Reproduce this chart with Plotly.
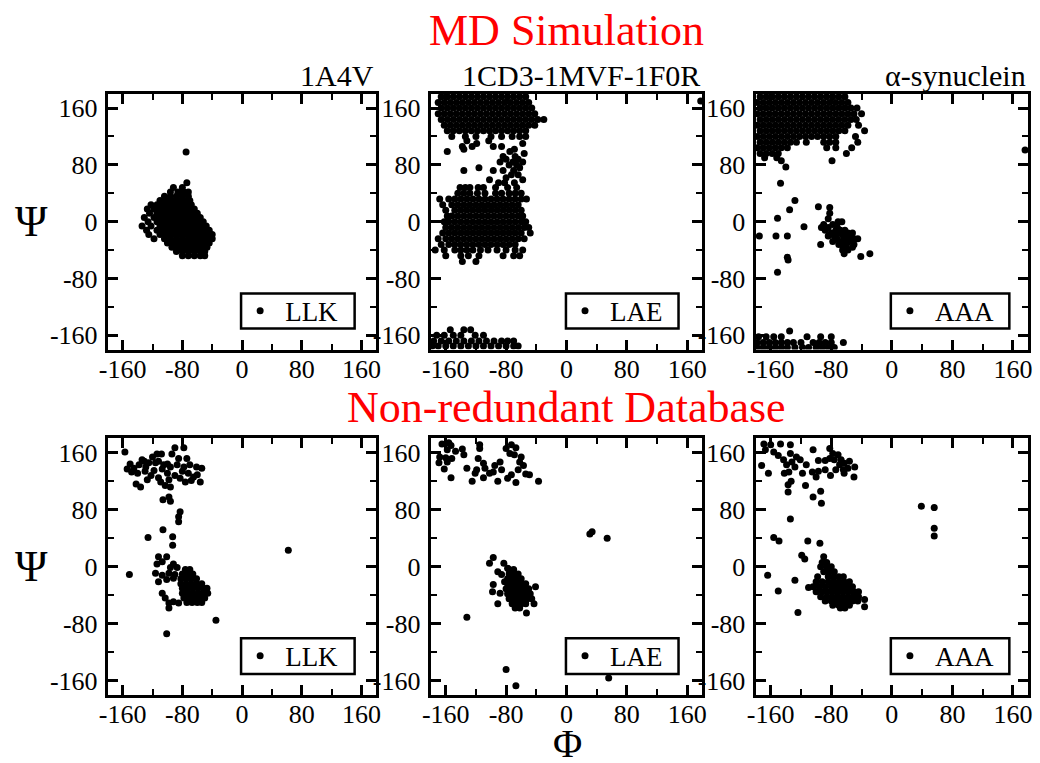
import plotly.graph_objects as go

# ---------------- data ----------------
TICK_VALS = [-160, -80, 0, 80, 160]
TICK_TEXT = ["-160", "-80", "0", "80", "160"]
MINOR_VALS = [-120, -40, 40, 120]
PANEL_TITLES = ["1A4V", "1CD3-1MVF-1F0R", "\u03b1-synuclein"]
SEQUENCES = ["LLK", "LAE", "AAA", "LLK", "LAE", "AAA"]
ROW_TITLES = ["MD Simulation", "Non-redundant Database"]

# each entry: (psi, [phi values])
P1_ROWS = [
    (98, [-75]), (55, [-74]),
    (48, [-92, -80]),
    (42, [-96, -86, -78, -72]),
    (36, [-104, -96, -88, -80, -72]),
    (30, [-110, -102, -94, -86, -78, -70]),
    (24, [-122, -114, -106, -98, -90, -82, -74, -68]),
    (18, [-127, -118, -110, -102, -94, -86, -78, -70, -64]),
    (12, [-124, -114, -106, -98, -90, -82, -74, -66, -60]),
    (6, [-131, -118, -110, -102, -94, -86, -78, -70, -62, -56]),
    (0, [-126, -114, -106, -98, -90, -82, -74, -66, -58, -52]),
    (-6, [-134, -122, -110, -102, -94, -86, -78, -70, -62, -54, -48]),
    (-12, [-128, -114, -106, -98, -90, -82, -74, -66, -58, -50, -44]),
    (-18, [-125, -110, -102, -94, -86, -78, -70, -62, -54, -46, -40]),
    (-24, [-118, -104, -96, -88, -80, -72, -64, -56, -48, -40]),
    (-30, [-100, -92, -84, -76, -68, -60, -52, -44]),
    (-36, [-94, -86, -78, -70, -62, -54, -47]),
    (-42, [-88, -80, -72, -64, -56, -50]),
    (-48, [-80, -72, -64, -56, -50]),
]

P2_ROWS = [
    (176, [-166, -158, -150, -142, -134, -126, -118, -110, -102, -94, -86, -78, -70, -62, -54]),
    (170, [178]),
    (168, [-170, -162, -154, -146, -138, -130, -122, -114, -106, -98, -90, -82, -74, -66, -58, -50]),
    (160, [-166, -158, -150, -142, -134, -126, -118, -110, -102, -94, -86, -78, -70, -62, -54, -46]),
    (152, [-170, -162, -154, -146, -138, -130, -122, -114, -106, -98, -90, -82, -74, -66, -58, -50, -42]),
    (144, [-166, -158, -150, -142, -134, -126, -118, -110, -102, -94, -86, -78, -70, -62, -54, -46, -38, -30]),
    (136, [-162, -154, -146, -138, -130, -122, -114, -106, -98, -90, -82, -74, -66, -58, -50, -42]),
    (128, [-158, -150, -142, -134, -126, -118, -110, -102, -94, -86, -78, -70, -62, -54]),
    (120, [-152, -134, -120, -100, -86, -72, -62, -54]),
    (114, [-132, -103]),
    (110, [-119, -58]),
    (106, [-138, -125, -97, -86]),
    (102, [-136, -69]),
    (99, [-158, -75]),
    (96, [-56]),
    (92, [-84, -68]),
    (88, [-80, -64]),
    (84, [-88, -71, -58]),
    (80, [-76, -66]),
    (76, [-116, -62]),
    (72, [-136, -97, -84, -70]),
    (66, [-73, -64]),
    (62, [-80]),
    (59, [-102, -58]),
    (55, [-90, -82, -69]),
    (48, [-141, -134, -128, -117, -110, -94, -78, -66]),
    (40, [-144, -136, -128, -118, -108, -94, -86, -76, -68, -60]),
    (32, [-168, -156, -148, -140, -132, -124, -116, -108, -100, -92, -84, -76, -68, -60, -53]),
    (24, [-164, -152, -144, -136, -128, -120, -112, -104, -96, -88, -80, -72, -64]),
    (16, [-160, -148, -140, -132, -124, -116, -108, -100, -92, -84, -76, -68, -60]),
    (8, [-158, -152, -144, -136, -128, -120, -112, -104, -96, -88, -80, -72, -64, -58]),
    (0, [-162, -156, -148, -140, -132, -124, -116, -108, -100, -92, -84, -76, -68, -60, -54]),
    (-8, [-160, -152, -144, -136, -128, -120, -112, -104, -96, -88, -80, -72, -64, -56, -50]),
    (-16, [-164, -156, -148, -140, -132, -124, -116, -108, -100, -92, -84, -76, -68, -60, -48]),
    (-24, [-170, -160, -152, -144, -136, -128, -120, -112, -104, -96, -88, -80, -72, -64, -56]),
    (-32, [-166, -156, -148, -140, -132, -124, -116, -108, -100, -92, -84, -76, -68]),
    (-40, [-174, -162, -148, -140, -132, -124, -114, -104, -92, -80, -68, -58]),
    (-48, [-160, -140, -130, -116, -84, -70, -62]),
    (-56, [-138, -120]),
    (-152, [-154, -136, -127]),
    (-160, [-172, -162, -150, -140, -121, -110]),
    (-168, [-176, -166, -156, -146, -136, -126, -116, -106, -96, -86, -78, -70]),
    (-175, [-178, -170, -160, -150, -140, -130, -120, -110, -100, -90, -80, -70, -64]),
]

P3_ROWS = [
    (176, [-174, -166, -158, -150, -142, -134, -126, -118, -110, -102, -94, -86, -78, -70, -62]),
    (168, [-178, -170, -162, -154, -146, -138, -130, -122, -114, -106, -98, -90, -82, -74, -66, -58]),
    (160, [-174, -166, -158, -150, -142, -134, -126, -118, -110, -102, -94, -86, -78, -70, -62, -54, -46]),
    (152, [-178, -170, -162, -154, -146, -138, -130, -122, -114, -106, -98, -90, -82, -74, -66, -58, -50, -40]),
    (144, [-174, -166, -158, -150, -142, -134, -126, -118, -110, -102, -94, -86, -78, -70, -62, -54, -47]),
    (136, [-178, -170, -162, -154, -146, -138, -130, -122, -114, -106, -98, -90, -82, -74, -66, -58, -44]),
    (128, [-174, -166, -158, -150, -142, -134, -126, -118, -110, -102, -94, -86, -78, -70, -62, -36]),
    (120, [-178, -170, -162, -154, -146, -138, -130, -122, -114, -106, -98, -90, -82, -74, -48]),
    (112, [-174, -166, -158, -150, -142, -134, -126, -113, -90, -82, -74, -45]),
    (104, [-178, -170, -162, -154, -146, -138, -86, -74, -53]),
    (101, [176]),
    (96, [-174, -166, -158, -150, -60]),
    (90, [-168, -152]),
    (86, [-146, -79]),
    (77, [-140]),
    (54, [-147]),
    (30, [-128]), (21, [-97]), (20, [-82]), (17, [-135]), (5, [-151]),
    (-7, [-116]), (-20, [-175, -153, -138]), (-50, [-138]), (-54, [-137]), (-71, [-151]),
    (12, [-82]),
    (4, [-84]),
    (0, [-71, -66]),
    (-4, [-90, -78]),
    (-8, [-93, -84, -72]),
    (-12, [-88, -74, -68, -62]),
    (-16, [-80, -70, -58, -52]),
    (-20, [-84, -76, -64, -56]),
    (-24, [-72, -62, -50, -45]),
    (-28, [-78, -66, -56]),
    (-32, [-94, -70, -60, -50]),
    (-36, [-64, -52]),
    (-40, [-65, -58]),
    (-45, [-63, -29]),
    (-49, [-41]),
    (-154, [-135]),
    (-162, [-176, -166, -156, -146, -112, -94, -80]),
    (-170, [-178, -170, -162, -154, -146, -138, -130, -120, -104, -96, -88, -80, -64]),
    (-177, [-178, -170, -162, -154, -146, -138, -128, -118, -110, -100, -92, -84, -76]),
]

P4_ROWS = [
    (167, [-90, -78]), (161, [-157]), (158, [-114, -108, -94]), (154, [-120]),
    (152, [-85, -74]), (150, [-134]), (148, [-131, -112]), (146, [-125, -116]),
    (144, [-150, -100]), (143, [-138, -105, -87, -70]), (140, [-129, -96, -78, -61]),
    (138, [-145, -54]), (137, [-154, -107]), (135, [-118]), (134, [-130, -80]),
    (133, [-148]), (131, [-140, -100, -72]), (129, [-60]), (128, [-122, -90]),
    (126, [-65]), (125, [-112]), (124, [-83]), (122, [-127, -98]), (121, [-68]),
    (119, [-109, -76, -56]), (116, [-142]), (114, [-103]), (112, [-136, -96]),
    (98, [-98]), (94, [-106]), (92, [-96]),
    (77, [-83]), (70, [-85]), (63, [-85]),
    (52, [-106]), (42, [-93]), (41, [-126]), (30, [-93]), (23, [62]),
    (14, [-112, -101]), (7, [-107]), (4, [-114, -92]), (-1, [-96, -87]),
    (-9, [-116, -98]), (-11, [-151, -90]), (-12, [-107]), (-16, [-92]),
    (-18, [-101]), (-21, [-112]),
    (-4, [-76, -70]),
    (-10, [-80, -73, -66]),
    (-17, [-82, -75, -68, -61]),
    (-24, [-82, -75, -68, -61, -54]),
    (-30, [-80, -73, -66, -59, -52, -47]),
    (-37, [-107, -80, -73, -66, -59, -52, -46]),
    (-44, [-103, -78, -71, -64, -57, -50]),
    (-49, [-92]),
    (-50, [-74, -67, -60, -54]),
    (-51, [-98, -85]),
    (-58, [-98]),
    (-75, [-35]),
    (-94, [-101]),
]

P5_ROWS = [
    (174, [-156]), (172, [-165]), (171, [-115, -73]), (170, [-153]),
    (166, [-115, -80]), (167, [-67]), (165, [-138]), (164, [-158]),
    (162, [-147]), (159, [-75]), (157, [-136, -69]), (154, [-168, -60]),
    (153, [-160]), (152, [-152, -117]), (147, [-158, -88, -62]), (146, [-169]),
    (145, [-110]), (142, [-95, -57]), (138, [-132, -108]), (137, [-162]),
    (136, [-119, -86, -64]), (133, [-97]), (131, [-121, -102]), (130, [-54]),
    (129, [-73, -49]), (125, [-153, -110]), (124, [-78]), (120, [-125, -91, -37]),
    (118, [-67]),
    (49, [34]), (46, [31]), (40, [54]),
    (13, [-97]), (5, [-102, -83]), (-2, [-78]), (-7, [-91]), (-11, [-86]),
    (-21, [-82]), (-25, [-97]), (-28, [-41]), (-35, [-98]), (-37, [-88]),
    (-52, [-91, -43]), (-65, [-53]),
    (-4, [-76, -70]),
    (-10, [-76, -70, -64]),
    (-17, [-78, -72, -66, -60]),
    (-24, [-78, -72, -66, -60, -54]),
    (-31, [-80, -74, -68, -62, -56, -50]),
    (-38, [-78, -72, -66, -60, -54, -48]),
    (-45, [-76, -70, -64, -58, -52, -46]),
    (-52, [-72, -66, -60, -54]),
    (-58, [-68, -62]),
    (-71, [-132]), (-144, [-80]), (-156, [56]), (-167, [-67]),
]

P6_ROWS = [
    (172, [-169, -147]), (171, [-160, -134]), (166, [-82]), (164, [-167, -104]),
    (161, [-156]), (159, [-134, -78]), (157, [-71]), (156, [-150]), (154, [-126]),
    (152, [-82]), (150, [-143, -121, -76, -67]), (149, [-97, -88]), (148, [-56]),
    (147, [-132]), (145, [-63]), (143, [-139, -113, -69]), (142, [-172]),
    (140, [-128, -49]), (138, [-58]), (136, [-88, -74, -64]), (134, [-97]),
    (133, [-136, -105]), (131, [-163, -142, -118, -63]), (128, [-81]),
    (126, [-100, -50]), (120, [-133]), (115, [-137]), (114, [-114]),
    (106, [-94]), (105, [-137]), (98, [-104]), (89, [-93]),
    (85, [39]), (83, [56]), (67, [-134]), (54, [56]), (43, [56]),
    (41, [-156]), (36, [-149, -111]), (33, [-95]), (16, [-119]), (11, [-115]),
    (-12, [-164]), (-19, [-128]), (-29, [-110]), (-34, [-150]), (-64, [-124]),
    (14, [-90]),
    (6, [-92, -86]),
    (0, [-94, -86, -80]),
    (-7, [-90, -83, -76]),
    (-14, [-98, -84, -77, -70, -64]),
    (-21, [-100, -92, -84, -77, -70, -63, -56]),
    (-28, [-104, -96, -88, -80, -73, -66, -59, -52]),
    (-35, [-100, -92, -85, -78, -71, -64, -57, -50, -44]),
    (-42, [-94, -86, -79, -72, -65, -58, -51, -44]),
    (-46, [-36]),
    (-48, [-88, -80, -73, -66, -59, -52, -45]),
    (-54, [-78, -70, -63, -56]),
    (-56, [-36]),
    (-58, [-68, -62]),
]

PANELS = [P1_ROWS, P2_ROWS, P3_ROWS, P4_ROWS, P5_ROWS, P6_ROWS]


def flatten(rows):
    phi, psi = [], []
    for ps, phis in rows:
        for p in phis:
            phi.append(p)
            psi.append(ps)
    return phi, psi


# ---------------- layout geometry (pixels) ----------------
W, H = 1040, 763
X_PX = [(100, 372), (427, 702), (756, 1032)]
Y_PX = [(94, 350), (439, 696)]
# legend frame boxes (x0, x1) per column, (y0, y1) per row
LEG_X_PX = [(235, 350), (564, 678), (893, 1013)]
LEG_Y_PX = [(294, 329), (639, 675)]
SERIF = "Liberation Serif, Times New Roman, Tinos, Nimbus Roman, DejaVu Serif, serif"


def px_x(x):
    return x / W


def px_y(y):
    return 1 - y / H


fig = go.Figure()
layout = dict(
    width=W, height=H,
    margin=dict(l=0, r=0, t=0, b=0),
    paper_bgcolor="white", plot_bgcolor="white",
    font=dict(family=SERIF, color="black"),
    annotations=[], shapes=[],
)

for i, rows in enumerate(PANELS):
    r, c = divmod(i, 3)
    n = i + 1
    xa = "x" if n == 1 else f"x{n}"
    ya = "y" if n == 1 else f"y{n}"
    lg = "legend" if n == 1 else f"legend{n}"
    phi, psi = flatten(rows)
    fig.add_trace(go.Scatter(
        x=phi, y=psi, mode="markers", name=SEQUENCES[i],
        xaxis=xa, yaxis=ya, legend=lg, showlegend=True,
        marker=dict(size=7, color="black", line=dict(width=0)),
        hoverinfo="x+y",
    ))
    axis_common = dict(
        range=[-180, 180], tickmode="array", tickvals=TICK_VALS, ticktext=TICK_TEXT,
        ticks="inside", ticklen=10, tickwidth=2.5, tickcolor="black",
        showline=True, linewidth=3, linecolor="black", mirror="allticks",
        showgrid=False, zeroline=False,
        tickfont=dict(family=SERIF, size=26, color="black"),
        minor=dict(tickmode="array", tickvals=MINOR_VALS, ticks="inside",
                   ticklen=6, tickwidth=2, tickcolor="black", showgrid=False),
        fixedrange=True,
    )
    layout["xaxis" if n == 1 else f"xaxis{n}"] = dict(
        axis_common, domain=[px_x(X_PX[c][0]), px_x(X_PX[c][1])],
        anchor=ya, ticklabelstandoff=-6,
    )
    layout["yaxis" if n == 1 else f"yaxis{n}"] = dict(
        axis_common, domain=[px_y(Y_PX[r][1]), px_y(Y_PX[r][0])],
        anchor=xa, ticklabelstandoff=2,
    )
    lx0, lx1 = LEG_X_PX[c]
    ly0, ly1 = LEG_Y_PX[r]
    layout[lg] = dict(
        x=px_x(lx0 - 6), xanchor="left",
        y=px_y((ly0 + ly1) / 2), yanchor="middle",
        xref="paper", yref="paper",
        borderwidth=0, bgcolor="rgba(0,0,0,0)",
        font=dict(family=SERIF, size=27, color="black"),
        itemwidth=40,
    )
    layout["shapes"].append(dict(
        type="rect", xref="paper", yref="paper",
        x0=px_x(lx0), x1=px_x(lx1), y0=px_y(ly1), y1=px_y(ly0),
        line=dict(color="black", width=2.5), fillcolor="rgba(0,0,0,0)",
    ))

ann = layout["annotations"]
# row titles
for t, yc in zip(ROW_TITLES, [31, 408]):
    ann.append(dict(text=t, x=px_x(565), y=px_y(yc), xref="paper", yref="paper",
                    xanchor="center", yanchor="middle", showarrow=False,
                    font=dict(family=SERIF, size=44, color="#ff0000")))
# panel titles
for c, t in enumerate(PANEL_TITLES):
    ann.append(dict(text=t, x=px_x(X_PX[c][1]), y=px_y(76), xref="paper", yref="paper",
                    xanchor="right", yanchor="middle", showarrow=False,
                    font=dict(family=SERIF, size=30, color="black")))
# axis symbols
for yc in [222, 567]:
    ann.append(dict(text="\u03a8", x=px_x(23), y=px_y(yc), xref="paper", yref="paper",
                    xanchor="center", yanchor="middle", showarrow=False,
                    font=dict(family=SERIF, size=44, color="black")))
ann.append(dict(text="\u03a6", x=px_x(566), y=px_y(744), xref="paper", yref="paper",
                xanchor="center", yanchor="middle", showarrow=False,
                font=dict(family=SERIF, size=40, color="black")))

fig.update_layout(**layout)
fig.write_html(
    "out.html",
    config={"displayModeBar": False},
    post_script="document.body.style.margin='0';document.body.style.overflow='hidden';",
)
